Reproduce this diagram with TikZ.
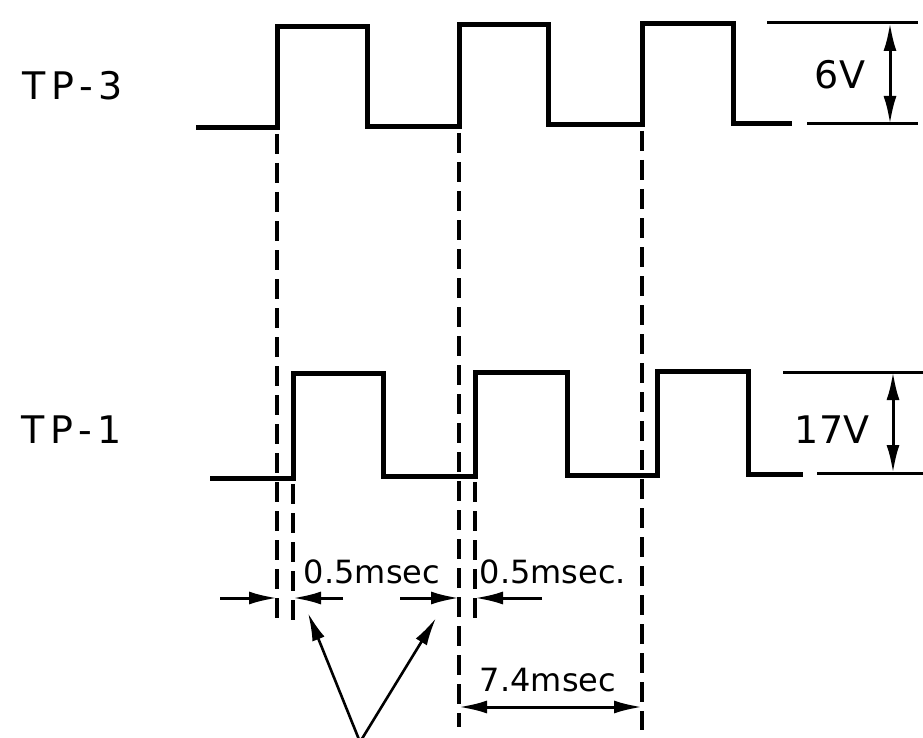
\documentclass[tikz,border=0pt]{standalone}
\usepackage{fontspec}
\setmainfont{DejaVu Sans}
\usetikzlibrary{arrows.meta}
\begin{document}
\begin{tikzpicture}[x=1pt,y=-1pt,
  wave/.style={line width=5pt, line join=miter},
  guide/.style={line width=3.2pt, dash pattern=on 20pt off 9pt},
  dimline/.style={line width=3pt},
  thinline/.style={line width=2.6pt},
  tipend/.style={-{Latex[length=28pt,width=13pt]}},
  tipboth/.style={{Latex[length=28pt,width=13pt]}-{Latex[length=28pt,width=13pt]}},
  biglbl/.style={font=\fontsize{38}{40}\selectfont, inner sep=0pt},
  tplbl/.style={font=\fontsize{38}{40}\selectfont\addfontfeature{LetterSpace=15}, inner sep=0pt},
  smalllbl/.style={font=\fontsize{32}{34}\selectfont, inner sep=0pt}]
\useasboundingbox (0,0) rectangle (923,738);
\fill[white] (0,0) rectangle (923,738);

% labels
\node[tplbl] (tp3) at (73,86) {TP-3};
\node[tplbl] (tp1) at (72,430) {TP-1};

% TP-3 waveform
\draw[wave] (196,128) -- (277,128) -- (277,27) -- (367,27) -- (367,127) -- (459,127) -- (459,25) -- (548,25) -- (548,125) -- (642,125) -- (642,24) -- (733,24) -- (733,124) -- (792,124);
% TP-3 amplitude
\coordinate (v3t) at (890,23);
\coordinate (v3b) at (890,124);
\draw[dimline] (767,23) -- (918,23);
\draw[dimline] (807,124) -- (918,124);
\draw[dimline,tipboth] (v3t) -- (v3b);
\node[biglbl] (six) at (840,75) {6V};

% TP-1 waveform
\draw[wave] (210,478) -- (293,478) -- (293,373) -- (383,373) -- (383,476) -- (475,476) -- (475,372) -- (567,372) -- (567,475) -- (657,475) -- (657,371) -- (748,371) -- (748,474) -- (803,474);
% TP-1 amplitude
\coordinate (v1t) at (893,372);
\coordinate (v1b) at (893,473);
\draw[dimline] (783,372) -- (923,372);
\draw[dimline] (817,473) -- (923,473);
\draw[dimline,tipboth] (v1t) -- (v1b);
\node[biglbl] (seventeen) at (832,430) {17V};

% dashed guides
\coordinate (g1a) at (277,134); \coordinate (g1b) at (277,623);
\coordinate (g2a) at (459,133); \coordinate (g2b) at (459,727);
\coordinate (g3a) at (642,131); \coordinate (g3b) at (642,730);
\coordinate (g4a) at (293,484); \coordinate (g4b) at (293,623);
\coordinate (g5a) at (475,482); \coordinate (g5b) at (475,623);
\draw[guide] (g1a) -- (g1b);
\draw[guide] (g2a) -- (g2b);
\draw[guide] (g3a) -- (g3b);
\draw[guide] (g4a) -- (g4b);
\draw[guide] (g5a) -- (g5b);

% 0.5 msec dimension arrows
\coordinate (a1s) at (220,598); \coordinate (a1e) at (277,598);
\coordinate (a2s) at (343,598); \coordinate (a2e) at (293,598);
\coordinate (a3s) at (400,598); \coordinate (a3e) at (459,598);
\coordinate (a4s) at (542,598); \coordinate (a4e) at (475,598);
\draw[dimline,tipend] (a1s) -- (a1e);
\draw[dimline,tipend] (a2s) -- (a2e);
\draw[dimline,tipend] (a3s) -- (a3e);
\draw[dimline,tipend] (a4s) -- (a4e);
\node[smalllbl] (d1) at (372,572) {0.5msec};
\node[smalllbl] (d2) at (553,572) {0.5msec.};

% 7.4 msec dimension
\coordinate (p1) at (459,707); \coordinate (p2) at (642,707);
\draw[dimline,tipboth] (p1) -- (p2);
\node[smalllbl] (d3) at (548,680) {7.4msec};

% pointer arrows
\coordinate (v) at (360,742);
\coordinate (q1) at (308,613);
\coordinate (q2) at (436,618);
\draw[thinline,tipend] (v) -- (q1);
\draw[thinline,tipend] (v) -- (q2);
\end{tikzpicture}
\end{document}
